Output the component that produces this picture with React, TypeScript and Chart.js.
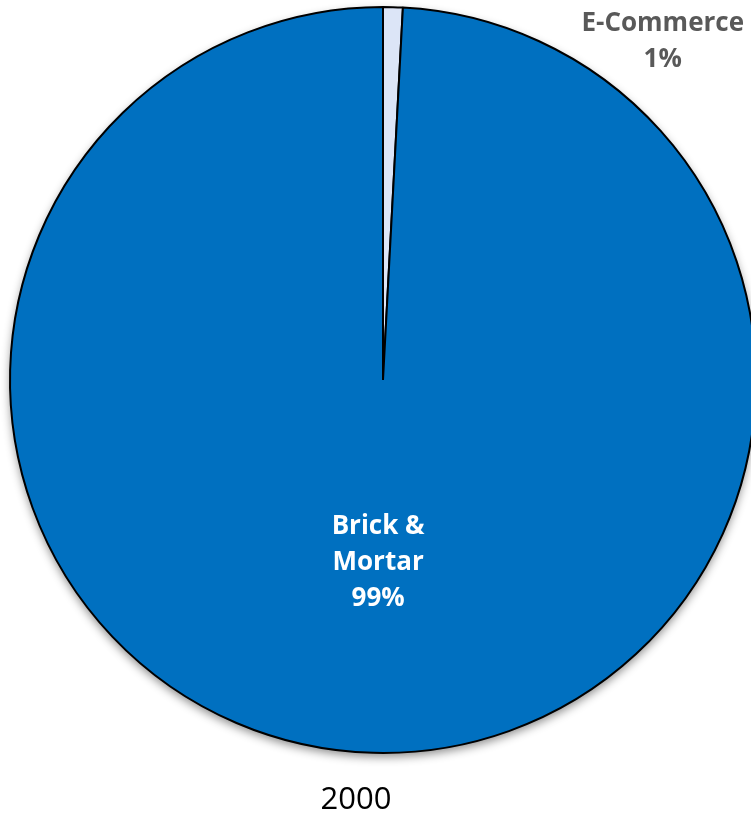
import React, { useEffect, useRef } from "react";
import { Chart, registerables } from "chart.js";

Chart.register(...registerables);

const categories: string[] = ["E-Commerce", "Brick & Mortar"];
const shares: number[] = [0.85, 99.15];
const sliceColors: string[] = ["#DCE5F7", "#0070C0"];
const labelLines: string[][] = [["E-Commerce"], ["Brick &", "Mortar"]];
const chartTitle = "2000";

const FONT = "'Open Sans', 'Noto Sans', sans-serif";

const shadowPlugin = {
  id: "pieShadow",
  beforeDatasetsDraw(chart: any) {
    const meta = chart.getDatasetMeta(0);
    const el = meta.data[0];
    if (!el) return;
    const { x, y, outerRadius } = el.getProps(["x", "y", "outerRadius"], true);
    const ctx = chart.ctx;
    ctx.save();
    ctx.shadowColor = "rgba(0,0,0,0.45)";
    ctx.shadowBlur = 10;
    ctx.shadowOffsetX = 0;
    ctx.shadowOffsetY = 4;
    ctx.beginPath();
    ctx.arc(x, y, outerRadius, 0, Math.PI * 2);
    ctx.fillStyle = "#0070C0";
    ctx.fill();
    ctx.restore();
  },
};

const labelPlugin = {
  id: "pieLabels",
  afterDatasetsDraw(chart: any) {
    const ctx = chart.ctx;
    const meta = chart.getDatasetMeta(0);
    const total = shares.reduce((a, b) => a + b, 0);
    ctx.save();
    ctx.textAlign = "center";
    ctx.textBaseline = "middle";
    ctx.font = `bold 26px ${FONT}`;
    meta.data.forEach((el: any, i: number) => {
      const { x, y, startAngle, endAngle, outerRadius } = el.getProps(
        ["x", "y", "startAngle", "endAngle", "outerRadius"],
        true
      );
      const pct = Math.round((shares[i] / total) * 100) + "%";
      const lines = [...labelLines[i], pct];
      const lh = 36;
      let lx: number, ly: number;
      if (i === 0) {
        ctx.fillStyle = "#595959";
        lx = x + outerRadius * 0.75;
        ly = y - outerRadius * 0.906;
      } else {
        ctx.fillStyle = "#FFFFFF";
        const mid = (startAngle + endAngle) / 2;
        const d = outerRadius * 0.49;
        lx = x + Math.cos(mid) * d;
        ly = y + Math.sin(mid) * d;
      }
      const top = ly - ((lines.length - 1) * lh) / 2;
      lines.forEach((t, k) => ctx.fillText(t, lx, top + k * lh));
    });
    ctx.font = `31px ${FONT}`;
    ctx.fillStyle = "#000000";
    ctx.fillText(chartTitle, 356, 800);
    ctx.restore();
  },
};

export default function App() {
  const ref = useRef<HTMLCanvasElement>(null);
  useEffect(() => {
    if (!ref.current) return;
    const chart = new Chart(ref.current, {
      type: "pie",
      data: {
        labels: categories,
        datasets: [
          {
            data: shares,
            backgroundColor: sliceColors,
            borderColor: "#000000",
            borderWidth: 2,
          },
        ],
      },
      options: {
        responsive: false,
        animation: false,
        layout: { padding: { left: 9, top: 6, right: 33, bottom: 64 } },
        plugins: {
          legend: { display: false },
          tooltip: { enabled: false },
          title: { display: false },
        },
      },
      plugins: [shadowPlugin, labelPlugin],
    });
    return () => chart.destroy();
  }, []);
  return (
    <div
      style={{
        position: "absolute",
        left: 0,
        top: 0,
        width: 751,
        height: 818,
        overflow: "hidden",
        background: "#fff",
      }}
    >
      <canvas ref={ref} width={790} height={818} style={{ display: "block" }} />
    </div>
  );
}
